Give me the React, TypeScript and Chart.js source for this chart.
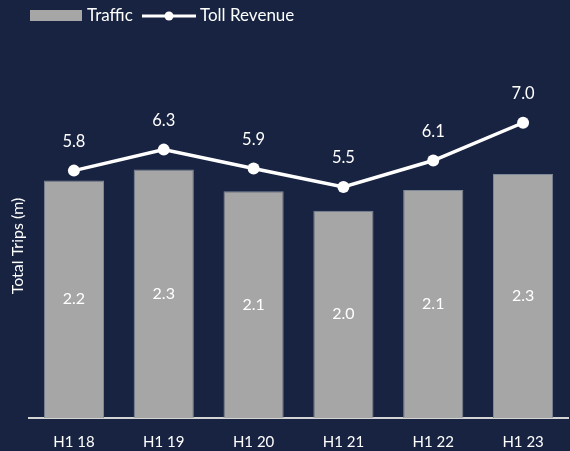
import React, { useEffect, useRef } from "react";
import { Chart, registerables } from "chart.js";

Chart.register(...registerables);

const categories = ["H1 18", "H1 19", "H1 20", "H1 21", "H1 22", "H1 23"];
const trafficValues = [2.2, 2.3, 2.1, 1.92, 2.11, 2.26];
const trafficLabels = ["2.2", "2.3", "2.1", "2.0", "2.1", "2.3"];
const revenueValues = [5.89, 6.39, 5.94, 5.5, 6.13, 7.03];
const revenueLabels = ["5.8", "6.3", "5.9", "5.5", "6.1", "7.0"];
const yTitle = "Total Trips (m)";

const BG = "#172340";
const BAR = "#a6a6a6";
const FONT = "Lato, 'Open Sans', sans-serif";

const bgPlugin = {
  id: "bg",
  beforeDraw(chart: any) {
    const { ctx, width, height } = chart;
    ctx.save();
    ctx.fillStyle = BG;
    ctx.fillRect(0, 0, width, height);
    ctx.restore();
  },
};

const labelsPlugin = {
  id: "valueLabels",
  afterDatasetsDraw(chart: any) {
    const ctx = chart.ctx;
    ctx.save();
    ctx.fillStyle = "#ffffff";
    ctx.textAlign = "center";
    ctx.textBaseline = "middle";
    ctx.font = `16px ${FONT}`;
    const barMeta = chart.getDatasetMeta(0);
    const yBase = chart.scales.y.getPixelForValue(0);
    barMeta.data.forEach((el: any, i: number) => {
      ctx.fillText(trafficLabels[i], el.x, (el.y + yBase) / 2);
    });
    ctx.font = `16.5px ${FONT}`;
    const lineMeta = chart.getDatasetMeta(1);
    lineMeta.data.forEach((el: any, i: number) => {
      ctx.fillText(revenueLabels[i], el.x, el.y - 29);
    });
    // y-axis title
    ctx.translate(18, 246);
    ctx.rotate(-Math.PI / 2);
    ctx.font = `16px ${FONT}`;
    ctx.fillText(yTitle, 0, 0);
    ctx.restore();
  },
};

const legendPlugin = {
  id: "customLegend",
  afterDraw(chart: any) {
    const ctx = chart.ctx;
    ctx.save();
    const cy = 16;
    ctx.fillStyle = BAR;
    ctx.fillRect(30, 10, 52, 11);
    ctx.fillStyle = "#ffffff";
    ctx.font = `17px ${FONT}`;
    ctx.textAlign = "left";
    ctx.textBaseline = "middle";
    ctx.fillText("Traffic", 87, cy);
    ctx.strokeStyle = "#ffffff";
    ctx.lineWidth = 3;
    ctx.beginPath();
    ctx.moveTo(142, cy);
    ctx.lineTo(196, cy);
    ctx.stroke();
    ctx.beginPath();
    ctx.arc(169, cy, 4.5, 0, Math.PI * 2);
    ctx.fill();
    ctx.fillText("Toll Revenue", 200, cy);
    ctx.restore();
  },
};

export default function App() {
  const ref = useRef<HTMLCanvasElement>(null);
  useEffect(() => {
    if (!ref.current) return;
    const chart = new Chart(ref.current, {
      type: "bar",
      data: {
        labels: categories,
        datasets: [
          {
            type: "bar",
            label: "Traffic",
            data: trafficValues,
            backgroundColor: BAR,
            borderColor: "#7f8898",
            borderWidth: 1,
            categoryPercentage: 1,
            barPercentage: 0.67,
            yAxisID: "y",
            order: 2,
          },
          {
            type: "line",
            label: "Toll Revenue",
            data: revenueValues,
            borderColor: "#ffffff",
            backgroundColor: "#ffffff",
            borderWidth: 3.5,
            pointRadius: 6,
            pointBackgroundColor: "#ffffff",
            pointBorderWidth: 0,
            yAxisID: "y2",
            order: 1,
          },
        ] as any,
      },
      options: {
        animation: false,
        responsive: false,
        devicePixelRatio: 1,
        layout: { padding: { top: 40, left: 29, right: 0, bottom: -15 } },
        plugins: {
          legend: { display: false },
          tooltip: { enabled: false },
        },
        scales: {
          x: {
            grid: { display: false, drawTicks: false },
            border: { display: true, color: "#d4d4d4", width: 2 },
            ticks: {
              color: "#ffffff",
              font: { family: FONT, size: 15 },
              padding: 15,
            },
          },
          y: {
            min: 0,
            max: 3.5,
            display: false,
          },
          y2: {
            min: 0,
            max: 9,
            display: false,
            position: "right",
          },
        },
      } as any,
      plugins: [bgPlugin, labelsPlugin, legendPlugin],
    });
    return () => chart.destroy();
  }, []);
  return (
    <div
      style={{
        position: "fixed",
        left: 0,
        top: 0,
        width: 574,
        height: 451,
        background: BG,
      }}
    >
      <canvas ref={ref} width={574} height={451} style={{ display: "block" }} />
    </div>
  );
}
